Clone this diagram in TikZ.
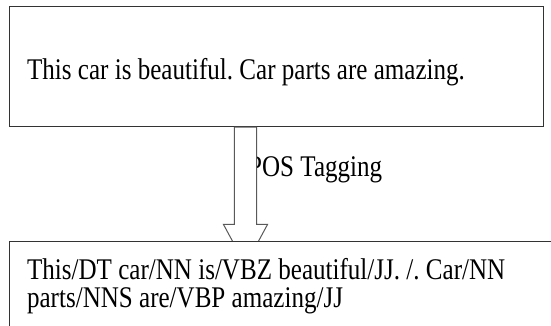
\documentclass[tikz,border=0pt]{standalone}
\usepackage{fontspec}
\newfontfamily\diagfont[FakeStretch=0.835]{Liberation Serif}
\newcommand\diagsize{\diagfont\fontsize{30}{28.4}\selectfont\frenchspacing\spaceskip=6.3pt plus 1pt minus 1pt\relax}
\usetikzlibrary{calc}
\tikzset{
  box/.style={draw=black!80, fill=white, line width=1.2pt, inner xsep=18pt, align=flush left, font=\diagsize},
  blockarrow/.style={draw=black!65, fill=white, line width=1pt, line join=miter},
  lbl/.style={inner sep=0pt, font=\diagsize}
}
\begin{document}
\begin{tikzpicture}[x=1pt,y=1pt]
\useasboundingbox (0,0) rectangle (551,326);
\clip (0,0) rectangle (551,326);
\node[box, anchor=north west, minimum width=534pt, minimum height=120pt, text width=498pt, text height=33.1pt, text depth=6.5pt] (sentence) at (8.5,320) {This car is beautiful. Car parts are amazing.};
\node[lbl, anchor=base west] (postag) at (248,149.3) {POS Tagging};
\coordinate (tagfrom) at ($(sentence.south west)+(237,0)$);
\coordinate (tagto) at ($(tagfrom)+(0,-138)$);
% block arrow, drawn over the label and under the lower box
\draw[blockarrow] ($(tagfrom)+(-11.2,0)$) -- ($(tagto)+(-11.2,40.7)$) -- ($(tagto)+(-22,40.7)$) -- (tagto)
  -- ($(tagto)+(22,40.7)$) -- ($(tagto)+(11.2,40.7)$) -- ($(tagfrom)+(11.2,0)$) -- cycle;
\node[box, anchor=north west, minimum width=560pt, text width=524pt, inner ysep=16.8pt] (tagged) at (8.5,85) {This/DT car/NN is/VBZ beautiful/JJ. /. Car/NN\\ parts/NNS are/VBP amazing/JJ};
\end{tikzpicture}
\end{document}
